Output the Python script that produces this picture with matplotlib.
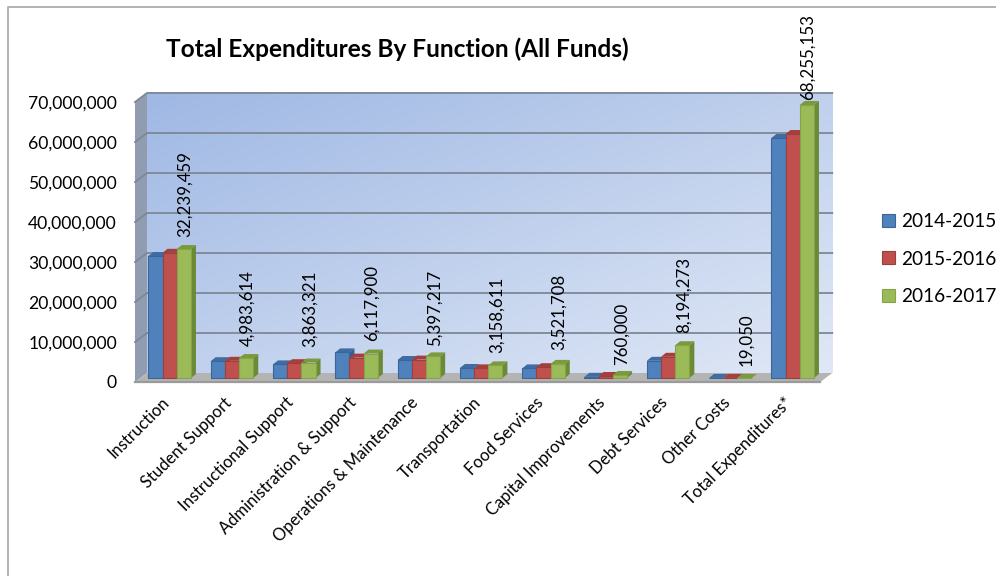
import matplotlib
matplotlib.use("Agg")
import matplotlib.pyplot as plt
import matplotlib.transforms as mtransforms
import numpy as np
from matplotlib.lines import Line2D
from matplotlib.patches import Patch, Polygon
from matplotlib.ticker import StrMethodFormatter

plt.rcParams['font.family'] = ['Lato', 'DejaVu Sans']

W, H = 996, 576

categories = ["Instruction", "Student Support", "Instructional Support",
              "Administration & Support", "Operations & Maintenance",
              "Transportation", "Food Services", "Capital Improvements",
              "Debt Services", "Other Costs", "Total Expenditures*"]
years = ["2014-2015", "2015-2016", "2016-2017"]
values_1415 = [30500000, 4200000, 3400000, 6400000, 4500000,
               2500000, 2400000, 300000, 4300000, 20000, 60000000]
values_1516 = [31300000, 4300000, 3700000, 5100000, 4600000,
               2400000, 2700000, 500000, 5300000, 20000, 61000000]
values_1617 = [32239459, 4983614, 3863321, 6117900, 5397217,
               3158611, 3521708, 760000, 8194273, 19050, 68255153]
yticks = [0, 10000000, 20000000, 30000000, 40000000, 50000000, 60000000, 70000000]
label_gaps = [12, 12, 16, 13, 10, 12, 14, 10, 12, 12, 5]

front_colors = ["#4f81bd", "#c0504d", "#9bbb59"]
edge_colors = ["#3a6595", "#9a3f3c", "#86a34a"]
side_colors = ["#37608f", "#8f3a38", "#6a8a36"]
top_colors = ["#3f6ca3", "#a63f3c", "#7a9a3c"]

# plot box in pixels: front edge of the floor and the left wall
LEFT, RIGHT, TOP, BOTTOM = 135, 820.3, 102, 382
PX_X = 11 / (RIGHT - LEFT)      # categories per pixel
PX_Y = 70000000 / (BOTTOM - TOP)  # dollars per pixel
WALL_DX, WALL_DY = 12 * PX_X, 9 * PX_Y
BAR_W = 14.2 * PX_X
SIDE_DX, SIDE_DY = 5 * PX_X, 4 * PX_Y

fig = plt.figure(figsize=(W / 100, H / 100), dpi=100)
ax = fig.add_axes([LEFT / W, 1 - BOTTOM / H, (RIGHT - LEFT) / W, (BOTTOM - TOP) / H])
ax.patch.set_visible(False)
for s in ax.spines.values():
    s.set_visible(False)

x_min, x_max = -0.5, 10.5
y_max = 70000000

# back wall, gradient runs from the upper left to the lower right
gx, gy = np.meshgrid(np.linspace(0, 1, 200), np.linspace(0, 1, 200))
shade = (gx + gy) / 2
c0 = np.array([0x9f, 0xb8, 0xe4]) / 255
c1 = np.array([0xe0, 0xe8, 0xf6]) / 255
wall = c0 + (c1 - c0) * shade[..., None]
ax.imshow(wall, extent=[x_min + WALL_DX, x_max + WALL_DX, WALL_DY, y_max + WALL_DY],
          origin='upper', aspect='auto', zorder=1, clip_on=False)

# side wall and floor
ax.add_patch(Polygon([(x_min, 0), (x_min + WALL_DX, WALL_DY), (x_min + WALL_DX, y_max + WALL_DY), (x_min, y_max)],
                     fc="#919cb0", ec="none", zorder=2, clip_on=False))
ax.add_patch(Polygon([(x_min, 0), (x_min + WALL_DX, WALL_DY), (x_max + WALL_DX, WALL_DY), (x_max, 0)],
                     fc="#b4b4b4", ec="none", zorder=2, clip_on=False))
ax.plot([x_min, x_max], [0, 0], color="#9a9a9a", lw=1.6, zorder=2, clip_on=False)

# grid lines on both walls
for t in yticks[1:]:
    ax.plot([x_min, x_min + WALL_DX, x_max + WALL_DX], [t, t + WALL_DY, t + WALL_DY],
            color="#7d8796", lw=1.3, zorder=3, clip_on=False)

# bars sit a little behind the front edge of the floor
bar_trans = mtransforms.offset_copy(ax.transData, fig, x=3.5, y=4, units='dots')
series = [values_1415, values_1516, values_1617]
for i, vals in enumerate(series):
    xs = np.arange(len(categories)) + (i - 1) * BAR_W
    z = 5 + i
    ax.bar(xs, vals, width=BAR_W, color=front_colors[i], edgecolor=edge_colors[i],
           linewidth=0.8, transform=bar_trans, zorder=z + 0.2, clip_on=False)
    for x, v in zip(xs, vals):
        x0, x1 = x - BAR_W / 2, x + BAR_W / 2
        ax.add_patch(Polygon([(x0, v), (x1, v), (x1 + SIDE_DX, v + SIDE_DY), (x0 + SIDE_DX, v + SIDE_DY)],
                             fc=top_colors[i], ec="none", transform=bar_trans, zorder=z, clip_on=False))
        ax.add_patch(Polygon([(x1, 0), (x1 + SIDE_DX, SIDE_DY), (x1 + SIDE_DX, v + SIDE_DY), (x1, v)],
                             fc=side_colors[i], ec="none", transform=bar_trans, zorder=z, clip_on=False))

# value labels only on the latest year
for i, (v, gap) in enumerate(zip(values_1617, label_gaps)):
    ax.annotate(f"{v:,}", (i + BAR_W, v), xycoords=bar_trans, xytext=(1, gap * 0.72),
                textcoords='offset points', rotation=90, ha='center', va='bottom',
                fontsize=12.2, color="black", zorder=20, annotation_clip=False)

ax.set_xlim(x_min, x_max)
ax.set_ylim(0, y_max)
ax.set_yticks(yticks)
ax.yaxis.set_major_formatter(StrMethodFormatter("{x:,.0f}"))
ax.set_xticks(range(len(categories)))
ax.set_xticklabels(categories, rotation=45, ha='right', rotation_mode='anchor')
ax.tick_params(axis='y', length=0, pad=13, labelsize=12.6)
ax.tick_params(axis='x', length=0, pad=9, labelsize=12)
shift = mtransforms.ScaledTranslation(-5 / 100, 0, fig.dpi_scale_trans)
for lab in ax.get_xticklabels():
    lab.set_transform(lab.get_transform() + shift)

fig.text(397 / W, 1 - 49 / H, "Total Expenditures By Function (All Funds)", fontsize=17.6,
         fontweight='bold', ha='center', va='center')

handles = [Patch(fc=front_colors[i], ec=edge_colors[i], lw=0.8, label=years[i]) for i in range(3)]
fig.legend(handles=handles, loc='center left', bbox_to_anchor=(882 / W, 1 - 259 / H), frameon=False,
           fontsize=13.7, handlelength=0.68, handleheight=0.68, handletextpad=0.3, labelspacing=1.08,
           borderaxespad=0, borderpad=0)

# chart frame, only the left and top edges are in view
fig.add_artist(Line2D([8 / W, 8 / W, 1], [0, 1 - 7 / H, 1 - 7 / H], color="#a6a6a6", lw=1.2))

fig.savefig("out.png", dpi=100)
